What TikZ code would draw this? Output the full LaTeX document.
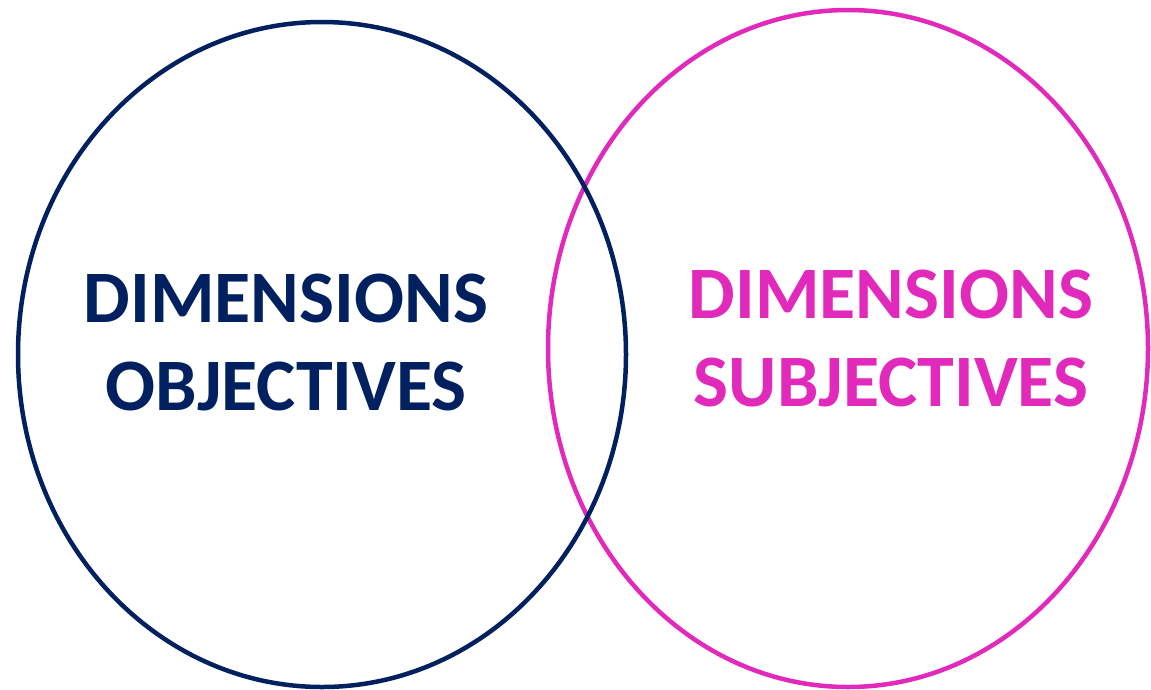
\documentclass[tikz,border=0pt]{standalone}
\usepackage{fontspec}
\setmainfont{Carlito}
\usepackage{xcolor}
\definecolor{colorObjective}{HTML}{002060}
\definecolor{colorSubjective}{HTML}{E12ABB}
\usetikzlibrary{shapes.geometric}
\tikzset{venn/.style={ellipse, draw, line width=4.5pt, inner sep=0pt},
  dimtext/.style={font=\fontsize{74}{88}\selectfont\bfseries, align=center, anchor=base}}

\begin{document}
\begin{tikzpicture}[x=1pt, y=-1pt]
\useasboundingbox (0,0) rectangle (1151,689);
\node[venn, colorSubjective, minimum width=600pt, minimum height=677pt] (subjectives) at (848,348.5) {};
\node[venn, colorObjective, minimum width=608pt, minimum height=665pt] (objectives) at (322,354.5) {};
% base anchor sits on the last line
\node[dimtext, text=colorObjective] (objlabel) at (286,410) {DIMENSIONS\\OBJECTIVES};
\node[dimtext, text=colorSubjective] (subjlabel) at (891,406) {DIMENSIONS\\SUBJECTIVES};
\end{tikzpicture}
\end{document}
